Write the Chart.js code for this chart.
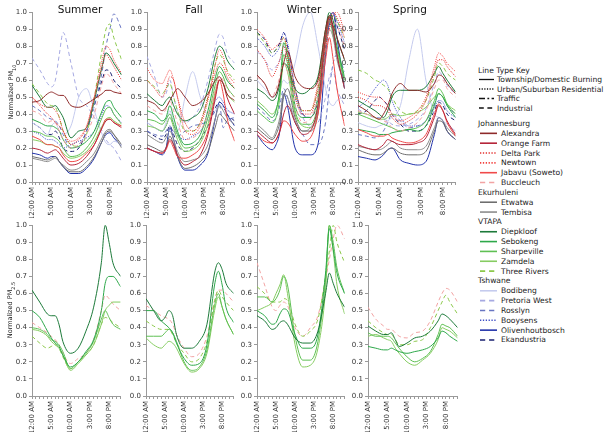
<!DOCTYPE html>
<html>
<head>
<meta charset="utf-8">
<script src="https://cdn.jsdelivr.net/npm/chart.js@4.4.1/dist/chart.umd.min.js"></script>
<style>
  body { margin: 0; width: 611px; height: 436px; background: #fff; position: relative; overflow: hidden; font-family: "DejaVu Sans", sans-serif; }
  canvas { position: absolute; }
  .title { position: absolute; font-size: 10.5px; color: #111; transform: translateX(-50%); white-space: nowrap; }
  .ylab { position: absolute; font-size: 6.5px; color: #222; white-space: nowrap; transform: translate(-50%, -50%) rotate(-90deg); }
  .ylab sub { font-size: 5px; }
  #legend { position: absolute; left: 0; top: 0; }
</style>
</head>
<body>
<svg id="legend" width="611" height="436"></svg>
<script>
const HOURS = [0, 2, 4, 5, 6, 7, 8, 10, 12, 14, 16, 18, 19, 20, 21, 23];
const X_TICK_HOURS = [0, 5, 10, 15, 20];
const X_TICK_LABELS = ['12:00 AM', '5:00 AM', '10:00 AM', '3:00 PM', '8:00 PM'];
const SEASONS = ['Summer', 'Fall', 'Winter', 'Spring'];

const STATIONS = ['Alexandra', 'Orange Farm', 'Delta Park', 'Newtown', 'Jabavu (Soweto)', 'Buccleuch',
  'Etwatwa', 'Tembisa', 'Diepkloof', 'Sebokeng', 'Sharpeville', 'Zamdela', 'Three Rivers',
  'Bodibeng', 'Pretoria West', 'Rosslyn', 'Booysens', 'Olivenhoutbosch', 'Ekandustria'];
const PM25_STATIONS = ['Diepkloof', 'Sebokeng', 'Sharpeville', 'Zamdela', 'Three Rivers', 'Buccleuch'];

// normalized PM10, one row per station (STATIONS order)
const PM10_SUMMER = [
  [0.47,0.48,0.52,0.53,0.52,0.51,0.51,0.45,0.44,0.46,0.49,0.52,0.54,0.54,0.53,0.52],
  [0.20,0.19,0.17,0.18,0.19,0.17,0.14,0.10,0.11,0.15,0.22,0.32,0.36,0.37,0.35,0.32],
  [0.50,0.45,0.40,0.38,0.35,0.33,0.30,0.22,0.25,0.32,0.50,0.68,0.75,0.72,0.68,0.60],
  [0.50,0.46,0.44,0.44,0.42,0.38,0.30,0.24,0.26,0.33,0.50,0.72,0.80,0.78,0.72,0.64],
  [0.27,0.25,0.22,0.22,0.21,0.20,0.16,0.12,0.13,0.17,0.22,0.32,0.37,0.37,0.35,0.33],
  [0.42,0.40,0.35,0.36,0.35,0.30,0.25,0.20,0.22,0.28,0.40,0.58,0.64,0.62,0.58,0.52],
  [0.15,0.14,0.13,0.14,0.15,0.12,0.09,0.06,0.06,0.09,0.15,0.24,0.29,0.30,0.28,0.22],
  [0.14,0.13,0.12,0.13,0.14,0.12,0.10,0.07,0.08,0.12,0.17,0.26,0.30,0.31,0.28,0.20],
  [0.57,0.50,0.44,0.44,0.45,0.42,0.38,0.26,0.30,0.32,0.48,0.68,0.76,0.74,0.70,0.63],
  [0.37,0.35,0.33,0.33,0.32,0.30,0.25,0.20,0.21,0.24,0.30,0.42,0.47,0.48,0.44,0.38],
  [0.30,0.29,0.27,0.27,0.26,0.24,0.20,0.15,0.16,0.20,0.27,0.38,0.43,0.44,0.40,0.34],
  [0.25,0.24,0.22,0.22,0.21,0.20,0.17,0.14,0.15,0.18,0.24,0.33,0.37,0.38,0.36,0.33],
  [0.58,0.52,0.46,0.45,0.44,0.38,0.30,0.22,0.21,0.28,0.50,0.78,0.90,0.93,0.85,0.72],
  [0.35,0.32,0.28,0.33,0.35,0.30,0.28,0.33,0.50,0.55,0.42,0.28,0.23,0.22,0.24,0.22],
  [0.73,0.66,0.58,0.56,0.60,0.75,0.88,0.70,0.50,0.45,0.38,0.30,0.25,0.22,0.20,0.12],
  [0.45,0.42,0.38,0.37,0.36,0.33,0.28,0.20,0.22,0.30,0.45,0.65,0.80,0.90,0.99,0.90],
  [0.30,0.28,0.25,0.25,0.24,0.22,0.20,0.22,0.24,0.26,0.30,0.40,0.45,0.44,0.40,0.35],
  [0.17,0.16,0.14,0.15,0.15,0.12,0.09,0.05,0.05,0.08,0.14,0.24,0.28,0.29,0.26,0.21],
  [0.35,0.32,0.28,0.28,0.30,0.26,0.20,0.18,0.20,0.30,0.45,0.60,0.66,0.65,0.60,0.55]
];
const PM10_FALL = [
  [0.48,0.46,0.42,0.44,0.48,0.52,0.55,0.50,0.45,0.47,0.52,0.60,0.62,0.58,0.52,0.48],
  [0.20,0.18,0.17,0.20,0.25,0.22,0.16,0.10,0.12,0.16,0.28,0.50,0.60,0.58,0.50,0.40],
  [0.60,0.55,0.50,0.55,0.62,0.60,0.50,0.35,0.30,0.35,0.50,0.65,0.70,0.68,0.62,0.55],
  [0.67,0.60,0.58,0.62,0.66,0.60,0.50,0.30,0.28,0.33,0.48,0.70,0.78,0.74,0.65,0.58],
  [0.20,0.18,0.17,0.19,0.24,0.20,0.15,0.14,0.16,0.20,0.30,0.52,0.60,0.52,0.38,0.24],
  [0.45,0.42,0.40,0.43,0.48,0.42,0.35,0.25,0.26,0.30,0.40,0.55,0.62,0.60,0.55,0.50],
  [0.22,0.20,0.18,0.20,0.27,0.22,0.15,0.08,0.09,0.12,0.18,0.33,0.40,0.38,0.35,0.30],
  [0.28,0.25,0.23,0.26,0.30,0.25,0.18,0.12,0.13,0.15,0.22,0.38,0.45,0.42,0.38,0.34],
  [0.52,0.48,0.45,0.48,0.50,0.45,0.40,0.36,0.38,0.42,0.55,0.75,0.80,0.78,0.72,0.66],
  [0.42,0.40,0.36,0.38,0.45,0.38,0.30,0.22,0.23,0.28,0.42,0.62,0.68,0.65,0.60,0.55],
  [0.37,0.36,0.34,0.37,0.40,0.34,0.28,0.20,0.21,0.25,0.38,0.58,0.65,0.62,0.56,0.50],
  [0.33,0.32,0.30,0.33,0.38,0.32,0.25,0.18,0.19,0.23,0.34,0.54,0.60,0.58,0.52,0.47],
  [0.60,0.56,0.52,0.55,0.58,0.50,0.42,0.30,0.30,0.35,0.50,0.70,0.75,0.72,0.66,0.60],
  [0.35,0.32,0.30,0.35,0.42,0.35,0.30,0.50,0.65,0.50,0.40,0.42,0.45,0.44,0.42,0.40],
  [0.74,0.62,0.50,0.52,0.60,0.50,0.42,0.35,0.38,0.45,0.60,0.80,0.87,0.85,0.76,0.70],
  [0.30,0.28,0.27,0.30,0.33,0.30,0.27,0.30,0.33,0.34,0.36,0.42,0.46,0.32,0.36,0.38],
  [0.35,0.32,0.30,0.33,0.38,0.33,0.28,0.25,0.27,0.30,0.38,0.48,0.50,0.47,0.43,0.40],
  [0.20,0.18,0.16,0.20,0.32,0.25,0.15,0.07,0.07,0.10,0.17,0.38,0.47,0.45,0.40,0.33],
  [0.30,0.27,0.25,0.28,0.33,0.28,0.22,0.18,0.20,0.25,0.33,0.44,0.47,0.45,0.40,0.36]
];
const PM10_WINTER = [
  [0.63,0.58,0.50,0.52,0.60,0.70,0.77,0.62,0.56,0.55,0.60,0.90,0.98,0.92,0.85,0.72],
  [0.30,0.26,0.23,0.25,0.30,0.40,0.45,0.35,0.28,0.30,0.45,0.85,0.97,0.90,0.75,0.55],
  [0.78,0.72,0.62,0.66,0.72,0.80,0.72,0.50,0.40,0.40,0.55,0.80,0.90,0.98,1.00,0.88],
  [0.90,0.85,0.78,0.80,0.82,0.85,0.78,0.55,0.42,0.42,0.58,0.85,0.95,1.00,0.97,0.85],
  [0.28,0.24,0.23,0.25,0.30,0.36,0.35,0.28,0.24,0.26,0.40,0.72,0.85,0.72,0.55,0.33],
  [0.62,0.58,0.50,0.55,0.62,0.70,0.65,0.45,0.35,0.37,0.50,0.80,0.90,0.95,0.92,0.80],
  [0.32,0.28,0.25,0.28,0.35,0.50,0.55,0.38,0.30,0.30,0.40,0.80,0.95,0.88,0.75,0.55],
  [0.34,0.30,0.26,0.30,0.38,0.52,0.50,0.36,0.30,0.32,0.42,0.78,0.90,0.85,0.72,0.58],
  [0.55,0.52,0.48,0.50,0.58,0.70,0.68,0.55,0.52,0.55,0.62,0.90,1.00,0.95,0.85,0.72],
  [0.46,0.42,0.38,0.42,0.55,0.82,0.75,0.45,0.38,0.38,0.50,0.88,0.98,0.90,0.80,0.62],
  [0.42,0.38,0.35,0.38,0.50,0.75,0.70,0.42,0.34,0.34,0.46,0.85,0.97,0.88,0.78,0.60],
  [0.48,0.44,0.40,0.43,0.52,0.70,0.65,0.40,0.33,0.32,0.42,0.82,0.95,0.86,0.76,0.60],
  [0.88,0.82,0.76,0.78,0.80,0.85,0.76,0.52,0.42,0.42,0.55,0.85,0.95,0.98,0.95,0.85],
  [0.60,0.55,0.50,0.52,0.55,0.60,0.58,0.70,0.92,1.00,0.80,0.55,0.47,0.45,0.48,0.50],
  [0.77,0.72,0.66,0.68,0.72,0.80,0.75,0.50,0.38,0.33,0.35,0.50,0.62,0.65,0.55,0.45],
  [0.44,0.40,0.36,0.38,0.45,0.55,0.50,0.35,0.28,0.22,0.22,0.35,0.55,0.70,0.75,0.65],
  [0.85,0.80,0.74,0.76,0.80,0.88,0.82,0.55,0.40,0.38,0.50,0.80,0.92,1.00,0.95,0.82],
  [0.28,0.22,0.19,0.22,0.30,0.52,0.45,0.20,0.16,0.16,0.22,0.75,0.95,1.00,0.85,0.55],
  [0.88,0.84,0.76,0.78,0.82,0.88,0.80,0.55,0.40,0.38,0.48,0.80,0.92,0.98,0.92,0.78]
];
const PM10_SPRING = [
  [0.45,0.42,0.38,0.37,0.40,0.45,0.52,0.58,0.54,0.54,0.53,0.58,0.63,0.62,0.58,0.52],
  [0.22,0.20,0.19,0.20,0.22,0.25,0.24,0.22,0.22,0.23,0.26,0.38,0.45,0.42,0.36,0.28],
  [0.50,0.48,0.45,0.45,0.44,0.42,0.38,0.34,0.36,0.40,0.48,0.65,0.72,0.72,0.68,0.62],
  [0.53,0.51,0.50,0.50,0.48,0.45,0.40,0.36,0.38,0.42,0.50,0.68,0.76,0.74,0.70,0.65],
  [0.31,0.29,0.27,0.27,0.27,0.28,0.26,0.24,0.23,0.24,0.28,0.40,0.46,0.42,0.35,0.27],
  [0.42,0.40,0.38,0.37,0.36,0.35,0.32,0.30,0.32,0.35,0.42,0.55,0.60,0.60,0.55,0.50],
  [0.19,0.17,0.16,0.16,0.17,0.19,0.20,0.17,0.16,0.16,0.18,0.30,0.36,0.35,0.30,0.25],
  [0.21,0.20,0.19,0.19,0.20,0.22,0.24,0.20,0.19,0.19,0.21,0.32,0.38,0.36,0.32,0.27],
  [0.48,0.45,0.42,0.40,0.38,0.42,0.50,0.54,0.54,0.54,0.56,0.64,0.68,0.64,0.60,0.53],
  [0.31,0.30,0.29,0.28,0.28,0.28,0.29,0.30,0.31,0.30,0.33,0.45,0.52,0.50,0.45,0.38],
  [0.40,0.38,0.36,0.35,0.34,0.33,0.32,0.30,0.31,0.32,0.36,0.48,0.55,0.52,0.46,0.40],
  [0.41,0.40,0.38,0.37,0.37,0.38,0.40,0.39,0.40,0.41,0.44,0.50,0.52,0.50,0.46,0.42],
  [0.66,0.64,0.60,0.59,0.57,0.55,0.50,0.42,0.40,0.42,0.48,0.62,0.70,0.68,0.64,0.60],
  [0.35,0.33,0.32,0.33,0.34,0.36,0.38,0.45,0.72,0.90,0.60,0.40,0.38,0.36,0.34,0.30],
  [0.43,0.40,0.38,0.38,0.37,0.36,0.34,0.33,0.34,0.37,0.43,0.58,0.65,0.62,0.57,0.52],
  [0.28,0.27,0.26,0.27,0.30,0.35,0.40,0.36,0.32,0.33,0.36,0.46,0.52,0.50,0.45,0.40],
  [0.44,0.48,0.55,0.58,0.60,0.57,0.48,0.38,0.33,0.33,0.36,0.44,0.48,0.47,0.42,0.38],
  [0.15,0.14,0.13,0.14,0.16,0.19,0.20,0.13,0.11,0.10,0.12,0.28,0.38,0.36,0.30,0.25],
  [0.40,0.42,0.48,0.50,0.48,0.45,0.40,0.34,0.30,0.30,0.33,0.42,0.47,0.45,0.40,0.36]
];

// normalized PM2.5, one row per station (PM25_STATIONS order)
const PM25_SUMMER = [
  [0.62,0.55,0.48,0.47,0.47,0.42,0.32,0.25,0.28,0.38,0.52,0.78,1.00,0.90,0.78,0.70],
  [0.50,0.46,0.38,0.34,0.31,0.29,0.24,0.17,0.20,0.26,0.33,0.50,0.66,0.70,0.70,0.64],
  [0.40,0.39,0.36,0.33,0.32,0.30,0.26,0.16,0.20,0.25,0.32,0.45,0.50,0.46,0.42,0.39],
  [0.39,0.38,0.35,0.32,0.30,0.28,0.24,0.15,0.19,0.24,0.30,0.42,0.50,0.53,0.55,0.55],
  [0.35,0.31,0.28,0.29,0.30,0.28,0.23,0.16,0.20,0.24,0.30,0.42,0.46,0.45,0.43,0.40],
  [0.43,0.40,0.37,0.35,0.33,0.30,0.25,0.19,0.22,0.25,0.33,0.50,0.59,0.57,0.54,0.50]
];
const PM25_FALL = [
  [0.57,0.50,0.44,0.46,0.50,0.47,0.36,0.28,0.28,0.32,0.42,0.72,0.78,0.74,0.66,0.60],
  [0.50,0.50,0.44,0.42,0.40,0.37,0.31,0.22,0.18,0.19,0.30,0.65,0.73,0.65,0.52,0.43],
  [0.35,0.35,0.35,0.37,0.39,0.37,0.32,0.20,0.15,0.17,0.27,0.53,0.60,0.52,0.45,0.36],
  [0.34,0.30,0.28,0.30,0.32,0.31,0.28,0.19,0.14,0.16,0.25,0.50,0.58,0.52,0.45,0.36],
  [0.44,0.41,0.39,0.39,0.39,0.36,0.31,0.25,0.20,0.22,0.32,0.55,0.62,0.58,0.55,0.50],
  [0.53,0.50,0.47,0.46,0.45,0.42,0.36,0.28,0.23,0.25,0.35,0.56,0.62,0.62,0.60,0.55]
];
const PM25_WINTER = [
  [0.47,0.44,0.39,0.40,0.43,0.44,0.42,0.34,0.31,0.31,0.38,0.60,0.72,0.66,0.60,0.52],
  [0.50,0.47,0.42,0.43,0.48,0.51,0.50,0.36,0.28,0.28,0.36,0.72,0.98,0.86,0.72,0.60],
  [0.58,0.58,0.55,0.57,0.62,0.70,0.65,0.35,0.21,0.21,0.32,0.68,1.00,0.90,0.75,0.60],
  [0.50,0.52,0.55,0.60,0.65,0.71,0.60,0.30,0.17,0.18,0.28,0.62,1.00,0.85,0.65,0.48],
  [0.64,0.60,0.55,0.55,0.55,0.57,0.56,0.42,0.35,0.38,0.45,0.70,0.85,1.00,0.90,0.78],
  [0.78,0.65,0.52,0.50,0.53,0.55,0.53,0.40,0.35,0.40,0.47,0.68,0.80,0.92,1.00,0.92]
];
const PM25_SPRING = [
  [0.41,0.38,0.36,0.36,0.37,0.33,0.29,0.31,0.34,0.35,0.38,0.44,0.48,0.47,0.45,0.40],
  [0.29,0.28,0.27,0.27,0.28,0.27,0.26,0.25,0.26,0.27,0.29,0.34,0.38,0.37,0.35,0.32],
  [0.37,0.35,0.35,0.35,0.34,0.31,0.28,0.23,0.20,0.22,0.26,0.36,0.42,0.41,0.40,0.35],
  [0.35,0.36,0.34,0.33,0.32,0.28,0.25,0.20,0.18,0.21,0.25,0.33,0.40,0.39,0.38,0.34],
  [0.44,0.40,0.37,0.36,0.36,0.33,0.30,0.30,0.32,0.33,0.40,0.50,0.55,0.59,0.55,0.48],
  [0.52,0.45,0.41,0.39,0.39,0.37,0.35,0.34,0.37,0.38,0.44,0.55,0.60,0.63,0.62,0.55]
];

// ---- styling ----
const FONT = '"DejaVu Sans", sans-serif';
const AXIS_GREY = '#9a9a9a';
const DASH = { solid: [], dotted: [1, 1.2], traffic: [5, 2, 1.5, 2], dashed: [4, 3] };
const STYLE = {
  'Alexandra':       ['#8e2a2a', 'solid'],
  'Orange Farm':     ['#b5263a', 'solid'],
  'Delta Park':      ['#e3302e', 'dotted'],
  'Newtown':         ['#f2423f', 'dotted'],
  'Jabavu (Soweto)': ['#f04a4a', 'solid'],
  'Buccleuch':       ['#f2a3a3', 'dashed'],
  'Etwatwa':         ['#6e6e6e', 'solid'],
  'Tembisa':         ['#8c8c8c', 'solid'],
  'Diepkloof':       ['#1d7a3a', 'solid'],
  'Sebokeng':        ['#2ea84a', 'solid'],
  'Sharpeville':     ['#5fc054', 'solid'],
  'Zamdela':         ['#86cc62', 'solid'],
  'Three Rivers':    ['#8cc84b', 'dashed'],
  'Bodibeng':        ['#c5cbee', 'solid'],
  'Pretoria West':   ['#a6a9e2', 'dashed'],
  'Rosslyn':         ['#6875c2', 'dashed'],
  'Booysens':        ['#3e4ec6', 'dotted'],
  'Olivenhoutbosch': ['#2233aa', 'solid'],
  'Ekandustria':     ['#1a2070', 'dashed']
};

// plot-area boxes: [left, top, width, height]
const TOP_BOXES = [[32, 12, 96, 170], [147, 12, 94, 170], [257, 12, 94, 170], [358, 12, 104, 170]];
const BOTTOM_BOXES = [[32, 225, 95, 171], [146, 225, 94, 171], [257, 225, 94, 171], [368, 225, 96, 171]];
const Y_AXIS_W = 22, X_AXIS_H = 36, PAD_TOP = 6, PAD_RIGHT = 4;

function makePanel(box, names, rows) {
  const [left, top, w, h] = box;
  const canvas = document.createElement('canvas');
  canvas.width = w + Y_AXIS_W + PAD_RIGHT;
  canvas.height = h + PAD_TOP + X_AXIS_H;
  canvas.style.left = (left - Y_AXIS_W) + 'px';
  canvas.style.top = (top - PAD_TOP) + 'px';
  document.body.appendChild(canvas);

  const datasets = names.map((name, i) => ({
    label: name,
    data: HOURS.map((hr, j) => ({ x: hr, y: rows[i][j] })),
    borderColor: STYLE[name][0],
    borderDash: DASH[STYLE[name][1]],
    borderWidth: 1,
    pointRadius: 0,
    fill: false,
    cubicInterpolationMode: 'monotone'
  }));

  const tickFont = { family: FONT, size: 7 };
  return new Chart(canvas, {
    type: 'line',
    data: { datasets },
    options: {
      responsive: false,
      animation: false,
      layout: { padding: { top: PAD_TOP, right: PAD_RIGHT, left: 0, bottom: 0 }, autoPadding: false },
      plugins: { legend: { display: false }, tooltip: { enabled: false } },
      scales: {
        x: {
          type: 'linear', min: 0, max: 23,
          afterFit: s => { s.height = X_AXIS_H; },
          grid: { drawOnChartArea: false, drawTicks: true, tickLength: 3, color: AXIS_GREY },
          border: { color: AXIS_GREY },
          ticks: {
            stepSize: 1, autoSkip: false, maxRotation: 90, minRotation: 90,
            font: tickFont, color: '#333', padding: 2,
            callback: v => { const k = X_TICK_HOURS.indexOf(v); return k >= 0 ? X_TICK_LABELS[k] : ''; }
          }
        },
        y: {
          min: 0, max: 1,
          afterFit: s => { s.width = Y_AXIS_W; },
          grid: { drawOnChartArea: false, drawTicks: true, tickLength: 3, color: AXIS_GREY },
          border: { color: AXIS_GREY },
          ticks: { stepSize: 0.1, font: tickFont, color: '#333', padding: 2, callback: v => v.toFixed(1) }
        }
      }
    }
  });
}

const pm10 = [PM10_SUMMER, PM10_FALL, PM10_WINTER, PM10_SPRING];
const pm25 = [PM25_SUMMER, PM25_FALL, PM25_WINTER, PM25_SPRING];
SEASONS.forEach((season, i) => {
  makePanel(TOP_BOXES[i], STATIONS, pm10[i]);
  makePanel(BOTTOM_BOXES[i], PM25_STATIONS, pm25[i]);
  const t = document.createElement('div');
  t.className = 'title';
  t.textContent = season;
  t.style.left = (TOP_BOXES[i][0] + TOP_BOXES[i][2] / 2) + 'px';
  t.style.top = '3px';
  document.body.appendChild(t);
});

function yLabel(x, y, sub) {
  const d = document.createElement('div');
  d.className = 'ylab';
  d.innerHTML = 'Normalized PM<sub>' + sub + '</sub>';
  d.style.left = x + 'px';
  d.style.top = y + 'px';
  document.body.appendChild(d);
}
yLabel(12, 92, '10');
yLabel(11, 310, '2.5');

// ---- legend ----
const KEY_TYPES = [['Township/Domestic Burning', 'solid'], ['Urban/Suburban Residential', 'dotted'], ['Traffic', 'traffic'], ['Industrial', 'dashed']];
const GROUPS = [
  ['Johannesburg', ['Alexandra', 'Orange Farm', 'Delta Park', 'Newtown', 'Jabavu (Soweto)', 'Buccleuch']],
  ['Ekurhuleni', ['Etwatwa', 'Tembisa']],
  ['VTAPA', ['Diepkloof', 'Sebokeng', 'Sharpeville', 'Zamdela', 'Three Rivers']],
  ['Tshwane', ['Bodibeng', 'Pretoria West', 'Rosslyn', 'Booysens', 'Olivenhoutbosch', 'Ekandustria']]
];
const svg = document.getElementById('legend');
const NS = 'http://www.w3.org/2000/svg';
function svgText(x, y, s) {
  const t = document.createElementNS(NS, 'text');
  t.setAttribute('x', x); t.setAttribute('y', y);
  t.setAttribute('font-family', 'DejaVu Sans, sans-serif');
  t.setAttribute('font-size', '7.6');
  t.setAttribute('fill', '#222');
  t.setAttribute('dominant-baseline', 'central');
  t.textContent = s;
  svg.appendChild(t);
}
function svgLine(x1, x2, y, color, dash, width) {
  const l = document.createElementNS(NS, 'line');
  l.setAttribute('x1', x1); l.setAttribute('x2', x2);
  l.setAttribute('y1', y); l.setAttribute('y2', y);
  l.setAttribute('stroke', color);
  l.setAttribute('stroke-width', width);
  if (dash.length) l.setAttribute('stroke-dasharray', dash.join(','));
  svg.appendChild(l);
}
svgText(478, 70, 'Line Type Key');
KEY_TYPES.forEach(([label, type], i) => {
  const y = 79.5 + i * 9.5;
  svgLine(479, 494, y, '#111', DASH[type].map(v => v * 1.2), 1.3);
  svgText(497, y, label);
});
let row = 0;
GROUPS.forEach(([group, names]) => {
  svgText(478, 123.5 + row * 9.84, group);
  row++;
  names.forEach(name => {
    const y = 123.5 + row * 9.84;
    svgLine(480, 497, y, STYLE[name][0], DASH[STYLE[name][1]].map(v => v * 1.3), 1.6);
    svgText(501, y, name);
    row++;
  });
});
</script>
</body>
</html>
